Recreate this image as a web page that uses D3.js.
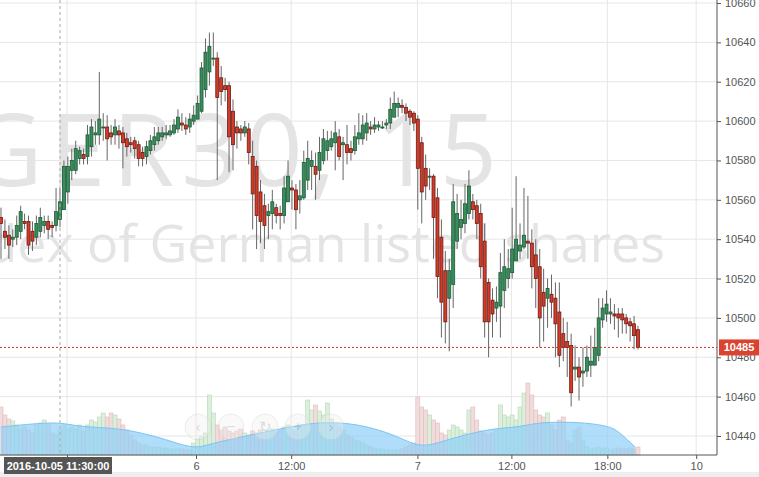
<!DOCTYPE html>
<html><head><meta charset="utf-8">
<script src="https://cdn.jsdelivr.net/npm/d3@7"></script>
<style>body{margin:0;background:#fff;overflow:hidden}svg{display:block;font-family:"Open Sans",Arial,sans-serif}</style>
</head><body><svg id="c" width="759" height="477"></svg>
<script>
const opens=[10551,10544,10542,10540,10541,10544,10549,10549,10544,10541,10544,10547,10549,10547,10547,
10550,10555,10564,10575,10575,10581,10583,10582,10587,10593,10593,10597,10597,10594,10593,
10595,10594,10591,10589,10590,10588,10584,10582,10585,10588,10590,10592,10593,10593,10594,
10596,10599,10598,10597,10600,10601,10605,10616,10625,10632,10632,10622,10618,10618,10605,
10597,10596,10594,10596,10582,10577,10564,10557,10552,10553,10556,10553,10552,10559,10566,
10565,10560,10561,10570,10577,10577,10575,10580,10585,10587,10589,10592,10588,10588,10586,
10585,10591,10591,10594,10597,10596,10597,10597,10598,10599,10602,10607,10608,10607,10605,
10604,10601,10589,10576,10572,10572,10561,10541,10524,10510,10517,10539,10546,10548,10553,
10559,10557,10553,10539,10518,10509,10505,10506,10514,10520,10523,10529,10534,10536,10539,
10538,10532,10526,10513,10510,10512,10510,10503,10492,10488,10486,10474,10475,10472,10473,
10476,10476,10481,10499,10502,10502,10502,10502,10502,10500,10498,10497,10494];
const closes=[10548,10541,10537,10541,10547,10554,10548,10537,10539,10548,10551,10549,10545,10546,10554,
10559,10577,10577,10580,10586,10585,10581,10593,10597,10594,10601,10597,10591,10592,10597,
10593,10589,10587,10588,10586,10581,10581,10587,10590,10592,10594,10594,10594,10595,10598,
10602,10598,10596,10601,10603,10609,10627,10635,10638,10632,10612,10615,10616,10592,10588,
10594,10594,10597,10584,10563,10552,10549,10547,10554,10559,10552,10552,10566,10572,10565,
10555,10562,10579,10581,10580,10573,10584,10591,10590,10591,10594,10582,10589,10584,10584,
10592,10594,10598,10599,10596,10598,10598,10597,10599,10606,10609,10609,10607,10604,10602,
10599,10576,10564,10567,10572,10551,10521,10508,10498,10524,10559,10553,10550,10558,10567,
10555,10548,10526,10498,10498,10502,10508,10523,10526,10525,10535,10540,10537,10542,10538,
10526,10520,10500,10506,10515,10508,10497,10481,10485,10485,10462,10475,10470,10473,10480,
10478,10485,10500,10505,10507,10503,10501,10500,10499,10497,10496,10491,10485];
const highs=[10556,10550,10547,10545,10552,10557,10553,10552,10549,10552,10556,10552,10552,10549,10566,
10566,10580,10582,10586,10590,10587,10586,10598,10601,10600,10625,10604,10603,10598,10601,
10598,10597,10594,10592,10592,10590,10587,10590,10593,10597,10597,10597,10598,10598,10601,
10606,10604,10602,10604,10608,10613,10630,10642,10645,10645,10635,10628,10622,10620,10611,
10600,10598,10600,10599,10590,10580,10570,10563,10558,10565,10558,10557,10572,10580,10570,
10568,10570,10585,10590,10585,10584,10592,10596,10595,10595,10600,10596,10592,10598,10590,
10598,10604,10603,10604,10600,10602,10600,10600,10601,10612,10615,10612,10611,10609,10606,
10605,10603,10592,10583,10576,10573,10566,10550,10534,10530,10568,10563,10560,10568,10575,
10563,10560,10558,10548,10520,10515,10516,10533,10540,10535,10556,10572,10548,10566,10562,
10545,10540,10535,10525,10520,10522,10518,10518,10500,10498,10492,10486,10480,10485,10486,
10491,10495,10510,10510,10514,10510,10507,10505,10505,10502,10500,10501,10496];
const lows=[10530,10535,10530,10536,10537,10540,10545,10532,10534,10537,10541,10543,10540,10541,10544,
10546,10555,10558,10570,10573,10578,10578,10578,10582,10588,10588,10590,10580,10588,10588,
10586,10576,10582,10584,10581,10577,10577,10578,10583,10585,10588,10590,10591,10592,10593,
10594,10595,10593,10594,10598,10604,10604,10612,10618,10628,10570,10608,10610,10574,10575,
10586,10590,10592,10578,10545,10535,10538,10535,10540,10545,10548,10545,10548,10560,10555,
10545,10553,10560,10565,10565,10560,10570,10578,10580,10585,10575,10580,10570,10578,10580,
10583,10588,10588,10590,10593,10594,10595,10596,10596,10596,10602,10602,10604,10600,10598,
10595,10555,10548,10560,10565,10530,10510,10490,10487,10483,10505,10535,10540,10543,10550,
10550,10540,10520,10490,10480,10490,10498,10490,10505,10515,10520,10530,10530,10535,10530,
10515,10505,10485,10488,10495,10500,10480,10475,10478,10470,10455,10468,10458,10465,10470,
10470,10478,10478,10495,10498,10497,10494,10490,10492,10492,10488,10484,10484];
const volumes=[48,40,36,34,30,26,28,25,22,30,32,35,30,22,20,
25,30,26,28,26,30,24,30,35,33,38,42,38,42,40,
36,30,25,20,15,12,10,10,8,8,8,7,7,6,6,
6,6,5,5,12,16,18,22,60,42,30,25,28,24,22,
24,26,22,20,24,22,25,20,24,26,22,24,28,30,25,
24,28,30,55,45,50,44,40,52,36,30,28,25,20,18,
15,14,12,10,8,7,6,6,5,5,5,5,6,8,10,
12,58,48,45,40,35,32,22,20,25,30,28,25,22,45,
48,35,24,22,20,22,25,50,40,38,40,35,48,62,72,
60,45,40,38,42,30,25,35,38,15,12,25,28,15,8,
6,7,8,6,7,5,6,7,6,6,7,6,8];
const maIdx=[0,7.4,15,20,30,38,43,49.4,53,61,68.4,73.5,78.6,88.8,99,104,108,114,122,127,132,137,147,155,157.5,161.3];
const maVal=[28,31,33,28,27,20,14,6,11,18,24,28,32,33,22,12,8,16,24,27,28,33,33,29,22,8];
const yTicks=[10440,10460,10480,10500,10520,10540,10560,10580,10600,10620,10640,10660];
const xTickIdx=[16.8,49.6,73.8,105.9,129.8,154.2,176.8];
const xTickLabels=["12:00","6","12:00","7","12:00","18:00","10"];
const lastPrice=10485;

const svg=d3.select("#c");
const W=717,B=455;
const x=d3.scaleLinear().domain([0,162]).range([1,638]);
const y=d3.scaleLinear().domain([10440,10660]).range([436,3]);
const yv=d3.scaleLinear().domain([0,100]).range([B,B-100]);

svg.append("g").selectAll("line").data(yTicks).join("line")
 .attr("x1",0).attr("x2",W).attr("y1",d=>y(d)).attr("y2",d=>y(d)).attr("stroke","#e6e6e6");
svg.append("g").selectAll("line").data(xTickIdx).join("line")
 .attr("x1",d=>x(d)).attr("x2",d=>x(d)).attr("y1",0).attr("y2",B).attr("stroke","#e6e6e6");

svg.append("text").attr("x",-30).attr("y",186).attr("font-size",100).attr("textLength",527).attr("lengthAdjust","spacing")
 .attr("fill","#e4e4e4").text("GER30, 15");
svg.append("text").attr("x",665).attr("y",262).attr("text-anchor","end").attr("font-size",52)
 .attr("fill","#e4e4e4").text("Index of German listed shares");

const bw=3;
svg.append("g").selectAll("rect").data(volumes).join("rect")
 .attr("x",(d,i)=>x(i)-bw/2-0.5).attr("width",bw+1).attr("y",d=>yv(d)).attr("height",d=>B-yv(d))
 .attr("fill",(d,i)=>closes[i]>=opens[i]?"#dcefdc":"#f1dcdc")
 .attr("stroke",(d,i)=>closes[i]>=opens[i]?"#b5d8b5":"#e0bcbc").attr("stroke-width",0.6);
const ma=maIdx.map((d,i)=>[d,maVal[i]]);
svg.append("path").datum(ma).attr("fill","#8fd0f8").attr("fill-opacity",0.7)
 .attr("d",d3.area().x(d=>x(d[0])).y0(B).y1(d=>yv(d[1])).curve(d3.curveBasis));
svg.append("path").datum(ma).attr("fill","none").attr("stroke","#7cc4f0")
 .attr("d",d3.line().x(d=>x(d[0])).y(d=>yv(d[1])).curve(d3.curveBasis));

const nav=[["‹",198],["−",231],["↻",265],["+",298],["›",331]];
const ng=svg.append("g").attr("opacity",0.35);
nav.forEach(([t,cx])=>{
 ng.append("circle").attr("cx",cx).attr("cy",427).attr("r",13).attr("fill","#eee").attr("stroke","#ccc");
 ng.append("text").attr("x",cx).attr("y",432).attr("text-anchor","middle").attr("font-size",15).attr("fill","#999").text(t);
});

const cg=svg.append("g");
opens.forEach((o,i)=>{
 const c=closes[i],up=c>=o;
 cg.append("line").attr("x1",x(i)).attr("x2",x(i)).attr("y1",y(highs[i])).attr("y2",y(lows[i])).attr("stroke","#666");
 const top=y(Math.max(o,c)),h=Math.max(1,y(Math.min(o,c))-top);
 cg.append("rect").attr("x",x(i)-bw/2).attr("width",bw).attr("y",top).attr("height",h)
  .attr("fill",up?"#3a8d5c":"#d23c2a").attr("stroke",up?"#1d5a37":"#6e1a12").attr("stroke-width",0.8);
});

svg.append("line").attr("x1",0).attr("x2",W).attr("y1",y(lastPrice)).attr("y2",y(lastPrice))
 .attr("stroke","#c0392b").attr("stroke-dasharray","2,2");
svg.append("line").attr("x1",60).attr("x2",60).attr("y1",0).attr("y2",B).attr("stroke","#aaa").attr("stroke-dasharray","3,3");

const ya=svg.append("g").attr("transform",`translate(${W},0)`).call(d3.axisRight(y).tickValues(yTicks).tickSize(4).tickFormat(d3.format("d")));
const xa=svg.append("g").attr("transform",`translate(0,${B})`).call(d3.axisBottom(x).tickValues(xTickIdx).tickSize(4).tickFormat((d,i)=>xTickLabels[i]));
[ya,xa].forEach(a=>{a.selectAll("text").attr("fill","#555").attr("font-size",11).attr("font-family","Arial,sans-serif");
 a.selectAll("line,path").attr("stroke","#555");});
xa.select(".domain").attr("d",`M0,0H${W}`);
ya.select(".domain").attr("d",`M0,0V${B}`);
ya.selectAll("text").attr("x",8);

svg.append("rect").attr("x",0).attr("y",472).attr("width",759).attr("height",5).attr("fill","#eee");
svg.append("rect").attr("x",W+2).attr("y",y(lastPrice)-8).attr("width",40).attr("height",16).attr("fill","#d9432f");
svg.append("text").attr("x",W+22).attr("y",y(lastPrice)+4).attr("text-anchor","middle").attr("font-size",11).attr("font-weight","bold").attr("fill","#fff").attr("font-family","Arial,sans-serif").text(lastPrice);
svg.append("rect").attr("x",4).attr("y",457).attr("width",108).attr("height",17).attr("fill","#555");
svg.append("text").attr("x",58).attr("y",469.5).attr("text-anchor","middle").attr("font-size",11).attr("font-weight","bold").attr("fill","#fff").attr("font-family","Arial,sans-serif").text("2016-10-05 11:30:00");
</script></body></html>
